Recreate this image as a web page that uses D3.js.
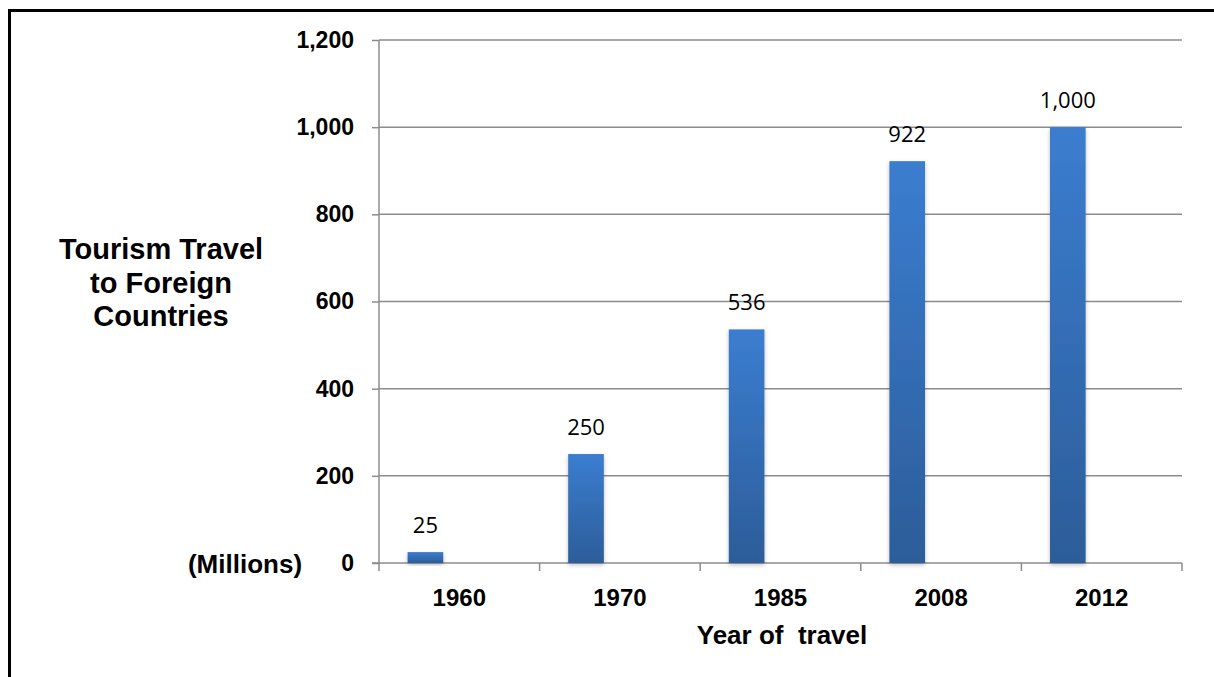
<!DOCTYPE html>
<html>
<head>
<meta charset="utf-8">
<script src="https://cdn.jsdelivr.net/npm/d3@7/dist/d3.min.js"></script>
<style>
  body { margin: 0; background: #fff; }
  svg { display: block; }
</style>
</head>
<body>
<svg width="1214" height="677"></svg>
<script>
// chart data
const years = ['1960', '1970', '1985', '2008', '2012'];
const travellers = [25, 250, 536, 922, 1000];
const yTicks = [0, 200, 400, 600, 800, 1000, 1200];
const yTitleLines = ['Tourism Travel', 'to Foreign', 'Countries'];

const svg = d3.select('svg');

// frame (top + left only)
svg.append('path')
  .attr('d', 'M9.5,677 L9.5,10.5 L1214,10.5')
  .attr('fill', 'none')
  .attr('stroke', '#000')
  .attr('stroke-width', 3);

const plotL = 379, plotR = 1182, plotT = 40, plotB = 563;

const x = d3.scaleBand()
  .domain(years)
  .range([plotL, plotR]);

const y = d3.scaleLinear()
  .domain([0, 1200])
  .range([plotB, plotT]);

const fmt = d3.format(',');

// gradient for bars
const defs = svg.append('defs');
const grad = defs.append('linearGradient')
  .attr('id', 'barGrad')
  .attr('x1', 0).attr('y1', 0).attr('x2', 0).attr('y2', 1);
grad.append('stop').attr('offset', '0%').attr('stop-color', '#3b7dd0');
grad.append('stop').attr('offset', '100%').attr('stop-color', '#2c5d99');

const shadow = defs.append('filter').attr('id', 'shadow')
  .attr('x', '-30%').attr('y', '-10%').attr('width', '160%').attr('height', '130%');
shadow.append('feDropShadow')
  .attr('dx', 0).attr('dy', 2).attr('stdDeviation', 2)
  .attr('flood-color', '#000').attr('flood-opacity', 0.25);

// gridlines
svg.append('g')
  .selectAll('line')
  .data(yTicks.filter(d => d > 0))
  .enter()
  .append('line')
  .attr('x1', plotL).attr('x2', plotR)
  .attr('y1', d => y(d)).attr('y2', d => y(d))
  .attr('stroke', '#8c8c8c')
  .attr('stroke-width', 1.5);

// y axis
const yAxis = svg.append('g')
  .attr('transform', `translate(${plotL},0)`)
  .call(d3.axisLeft(y).tickValues(yTicks).tickFormat(fmt).tickSize(7).tickPadding(18));
yAxis.select('.domain').attr('stroke', '#8c8c8c').attr('stroke-width', 1.5)
  .attr('d', `M0,${plotT}V${plotB + 8}`);
yAxis.selectAll('.tick line').attr('stroke', '#8c8c8c').attr('stroke-width', 1.5);
yAxis.selectAll('.tick text')
  .attr('font-family', 'Liberation Sans, Arial, sans-serif')
  .attr('font-weight', 'bold')
  .attr('font-size', 23)
  .attr('fill', '#000');

// x axis
const xAxis = svg.append('g')
  .attr('transform', `translate(0,${plotB})`)
  .call(d3.axisBottom(x).tickSize(0).tickPadding(26));
xAxis.select('.domain').attr('stroke', '#8c8c8c').attr('stroke-width', 1.5)
  .attr('d', `M${plotL - 7},0H${plotR}`);
xAxis.selectAll('.tick text')
  .attr('font-family', 'Liberation Sans, Arial, sans-serif')
  .attr('font-weight', 'bold')
  .attr('font-size', 24)
  .attr('fill', '#000');
// category boundary ticks
xAxis.append('g')
  .selectAll('line')
  .data(years.slice(1).concat(['end']))
  .enter()
  .append('line')
  .attr('x1', d => d === 'end' ? plotR : x(d))
  .attr('x2', d => d === 'end' ? plotR : x(d))
  .attr('y1', 0).attr('y2', 8)
  .attr('stroke', '#8c8c8c')
  .attr('stroke-width', 1.5);

// bars
const data = years.map((yr, i) => ({ year: yr, value: travellers[i] }));
const barOff = x.bandwidth() * 0.178;
const barW = x.bandwidth() * 0.222;

svg.append('g')
  .selectAll('rect')
  .data(data)
  .enter()
  .append('rect')
  .attr('x', d => x(d.year) + barOff)
  .attr('y', d => y(d.value))
  .attr('width', barW)
  .attr('height', d => y(0) - y(d.value))
  .attr('fill', 'url(#barGrad)')
  .attr('filter', 'url(#shadow)');

// value labels
svg.append('g')
  .selectAll('text')
  .data(data)
  .enter()
  .append('text')
  .attr('x', d => x(d.year) + barOff + barW / 2)
  .attr('y', d => y(d.value) - 19)
  .attr('text-anchor', 'middle')
  .attr('font-family', 'Open Sans, sans-serif')
  .attr('font-size', 22)
  .attr('fill', '#000')
  .text(d => fmt(d.value));

// y title
svg.append('text')
  .attr('text-anchor', 'middle')
  .attr('font-family', 'Liberation Sans, Arial, sans-serif')
  .attr('font-weight', 'bold')
  .attr('font-size', 29)
  .selectAll('tspan')
  .data(yTitleLines)
  .enter()
  .append('tspan')
  .attr('x', 161)
  .attr('y', (d, i) => 259 + i * 33.5)
  .text(d => d);

svg.append('text')
  .attr('x', 245)
  .attr('y', 573)
  .attr('text-anchor', 'middle')
  .attr('font-family', 'Liberation Sans, Arial, sans-serif')
  .attr('font-weight', 'bold')
  .attr('font-size', 26)
  .text('(Millions)');

// x title
svg.append('text')
  .attr('x', 782)
  .attr('y', 644)
  .attr('text-anchor', 'middle')
  .attr('font-family', 'Liberation Sans, Arial, sans-serif')
  .attr('font-weight', 'bold')
  .attr('font-size', 26)
  .style('white-space', 'pre')
  .text('Year of  travel');
</script>
</body>
</html>
